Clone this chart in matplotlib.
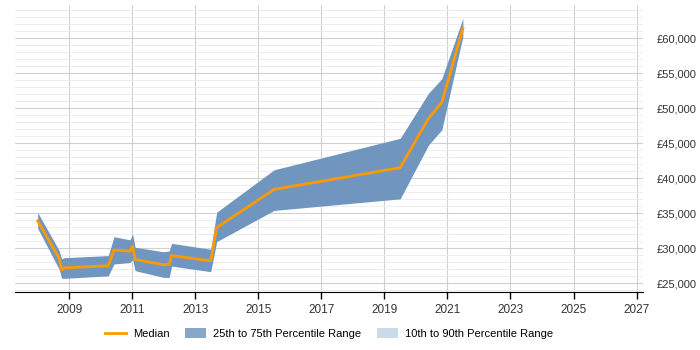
import matplotlib
matplotlib.use("Agg")
import matplotlib.pyplot as plt
from matplotlib.patches import Patch
from matplotlib.lines import Line2D
from matplotlib.ticker import MultipleLocator, FixedLocator, FuncFormatter

plt.rcParams['font.family'] = ['Liberation Sans', 'DejaVu Sans']

# sample dates (decimal years) and salary percentiles
years = [2008.0, 2008.68, 2008.76, 2008.84, 2010.24, 2010.42, 2010.93, 2011.01,
         2011.09, 2011.98, 2012.17, 2012.25, 2013.49, 2013.68, 2015.5, 2019.5,
         2020.4, 2020.82, 2021.49]
median = [33900, 28600, 26900, 27200, 27500, 29750, 29600, 30300,
          28400, 27650, 27700, 28950, 28200, 32950, 38400, 41500,
          48550, 50800, 61400]
p75 = [35100, 29700, 28500, 28650, 28950, 31650, 31200, 32050,
       30150, 29500, 29600, 30700, 29850, 35150, 41200, 45700,
       52150, 54200, 62850]
p25 = [32850, 27000, 25700, 25700, 26050, 27750, 27950, 28400,
       26800, 25850, 25800, 27450, 26650, 30950, 35400, 37050,
       44750, 46900, 60250]
year_ticks = [2009, 2011, 2013, 2015, 2017, 2019, 2021, 2023, 2025, 2027]

band_color = '#7096c0'
median_color = '#ff9900'

fig = plt.figure(figsize=(7, 3.5), dpi=100)
ax = fig.add_axes([0.0214, 0.165, 0.897, 0.821])

ax.fill_between(years, p25, p75, color=band_color, linewidth=0, zorder=2)
ax.plot(years, median, color=median_color, linewidth=2, zorder=3)

ax.set_xlim(2007.28, 2027.2)
ax.set_ylim(23714, 64750)

ax.xaxis.set_major_locator(FixedLocator(year_ticks))
ax.yaxis.set_major_locator(MultipleLocator(5000))
ax.yaxis.set_minor_locator(MultipleLocator(1000))
ax.yaxis.set_major_formatter(FuncFormatter(lambda v, p: '£{:,.0f}'.format(v)))
ax.xaxis.set_major_formatter(FuncFormatter(lambda v, p: '{:.0f}'.format(v)))

ax.yaxis.tick_right()
ax.tick_params(axis='y', which='both', length=0, pad=10, labelsize=8, colors='#333333')
ax.tick_params(axis='x', length=5, width=1, color='black', labelsize=8.5, colors='#333333')

ax.grid(True, which='major', axis='both', color='#d0d0d0', linewidth=0.8, zorder=0)
ax.grid(True, which='minor', axis='y', color='#ededed', linewidth=0.7, zorder=0)
ax.set_axisbelow(True)

for side in ['top', 'left', 'right']:
    ax.spines[side].set_visible(False)
ax.spines['bottom'].set_color('black')

handles = [
    Line2D([0], [0], color=median_color, linewidth=2),
    Patch(facecolor='#88a6c8', edgecolor='none'),
    Patch(facecolor='#c9daeb', edgecolor='none'),
]
labels = ['Median', '25th to 75th Percentile Range', '10th to 90th Percentile Range']
fig.legend(handles, labels, loc='center', bbox_to_anchor=(0.47, 0.047), ncol=3,
           frameon=False, fontsize=8, handlelength=1.9, handleheight=1.0,
           columnspacing=1.4, handletextpad=0.6)

fig.savefig('out.png', dpi=100)
